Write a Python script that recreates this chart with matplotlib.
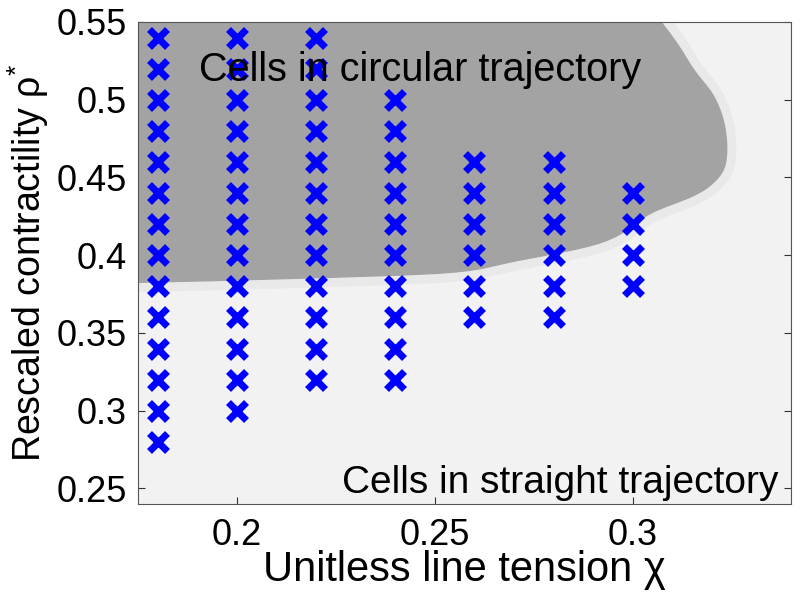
import matplotlib
matplotlib.use("Agg")
import matplotlib.pyplot as plt
from matplotlib.path import Path
from matplotlib.patches import PathPatch

plt.rcParams['font.family'] = ['Liberation Sans', 'DejaVu Sans']
plt.rcParams['mathtext.fontset'] = 'custom'
plt.rcParams['mathtext.rm'] = 'Liberation Sans'
plt.rcParams['mathtext.it'] = 'Liberation Sans:italic'

# simulated parameter points (chi, list of rho)
chi_cols = [0.18, 0.20, 0.22, 0.24, 0.26, 0.28, 0.30]
rho_cols = [
    [0.28, 0.30, 0.32, 0.34, 0.36, 0.38, 0.40, 0.42, 0.44, 0.46, 0.48, 0.50, 0.52, 0.54],
    [0.30, 0.32, 0.34, 0.36, 0.38, 0.40, 0.42, 0.44, 0.46, 0.48, 0.50, 0.52, 0.54],
    [0.32, 0.34, 0.36, 0.38, 0.40, 0.42, 0.44, 0.46, 0.48, 0.50, 0.52, 0.54],
    [0.32, 0.34, 0.36, 0.38, 0.40, 0.42, 0.44, 0.46, 0.48, 0.50],
    [0.36, 0.38, 0.40, 0.42, 0.44, 0.46],
    [0.36, 0.38, 0.40, 0.42, 0.44, 0.46],
    [0.38, 0.40, 0.42, 0.44],
]

# boundary of the circular-trajectory region, top -> bottom-left
bound_chi = [0.3040, 0.3071, 0.3114, 0.3154, 0.3202, 0.3228, 0.3237, 0.3230,
             0.3200, 0.3150, 0.3045, 0.2962, 0.2876, 0.2710, 0.2540, 0.2157,
             0.1753, 0.1650]
bound_rho = [0.5600, 0.5500, 0.5352, 0.5191, 0.5030, 0.4869, 0.4700, 0.4560,
             0.4460, 0.4380, 0.4270, 0.4128, 0.4051, 0.3967, 0.3890, 0.3852,
             0.3826, 0.3822]


def region_path(xs, ys):
    # smooth cubic curve through the boundary points, closed via the top-left corner
    pts = list(zip(xs, ys))
    verts = [pts[0]]
    codes = [Path.MOVETO]
    n = len(pts)
    for i in range(n - 1):
        p0 = pts[max(i - 1, 0)]
        p1 = pts[i]
        p2 = pts[i + 1]
        p3 = pts[min(i + 2, n - 1)]
        c1 = (p1[0] + (p2[0] - p0[0]) / 6, p1[1] + (p2[1] - p0[1]) / 6)
        c2 = (p2[0] - (p3[0] - p1[0]) / 6, p2[1] - (p3[1] - p1[1]) / 6)
        verts += [c1, c2, p2]
        codes += [Path.CURVE4] * 3
    verts += [(0.16, 0.57), (xs[0], 0.57), pts[0]]
    codes += [Path.LINETO, Path.LINETO, Path.CLOSEPOLY]
    return Path(verts, codes)


fig = plt.figure(figsize=(8, 6.01), dpi=100)
ax = fig.add_axes([0.1725, 0.1614, 0.8165, 0.802])
ax.set_facecolor('#f2f2f2')

path = region_path(bound_chi, bound_rho)
# soft halo around the region, then the region itself
ax.add_patch(PathPatch(path, facecolor='none', edgecolor='#e9e9e9', lw=14, joinstyle='round', zorder=1))
ax.add_patch(PathPatch(path, facecolor='#a3a3a3', edgecolor='#a3a3a3', lw=1, zorder=2))

for c, rs in zip(chi_cols, rho_cols):
    ax.plot([c] * len(rs), rs, linestyle='none', marker='x', color='#0000ff',
            markersize=13, markeredgewidth=5, zorder=3)

ax.text(0.1903, 0.519, 'Cells in circular trajectory', fontsize=28.5, va='center', ha='left', zorder=4)
ax.text(0.3368, 0.2538, 'Cells in straight trajectory', fontsize=28, va='center', ha='right', zorder=4)

ax.set_xlim(0.175, 0.34)
ax.set_ylim(0.24, 0.55)
ax.set_xticks([0.2, 0.25, 0.3])
ax.set_xticklabels(['0.2', '0.25', '0.3'])
ax.set_yticks([0.25, 0.3, 0.35, 0.4, 0.45, 0.5, 0.55])
ax.set_yticklabels(['0.25', '0.3', '0.35', '0.4', '0.45', '0.5', '0.55'])
ax.tick_params(direction='in', top=True, right=True, length=5, width=0.8, color='#333333', labelsize=26)
ax.tick_params(axis='x', pad=10)
ax.tick_params(axis='y', pad=8)
for s in ax.spines.values():
    s.set_color('#555555')
    s.set_linewidth(0.8)

ax.set_xlabel('Unitless line tension χ', fontsize=30, labelpad=-2)
ax.set_ylabel('Rescaled contractility ρ$^{*}$', fontsize=27, labelpad=4)

fig.savefig('out.png', dpi=100)
